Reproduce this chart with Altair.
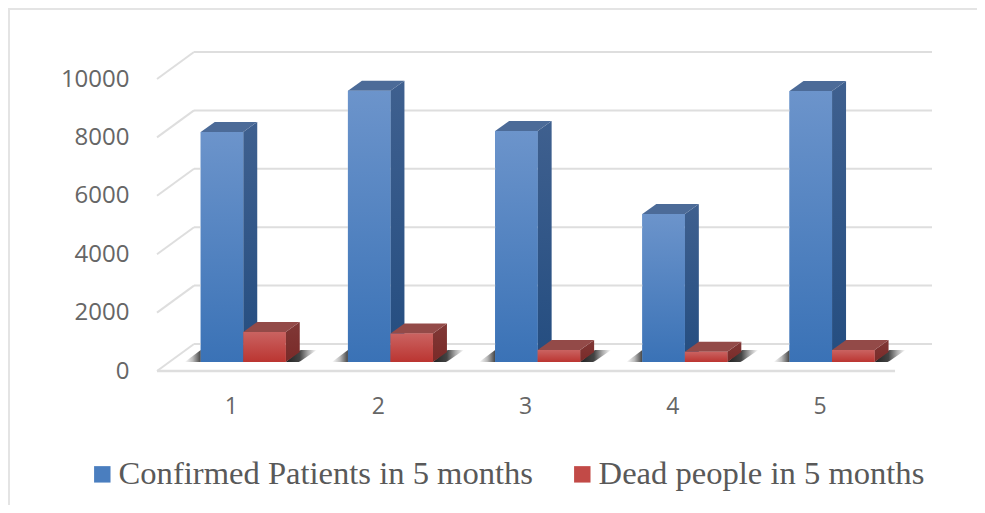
import altair as alt
import pandas as pd

MONTHS = [1, 2, 3, 4, 5]
CONFIRMED = [7880, 9290, 7910, 5070, 9280]
DEAD = [1030, 975, 410, 350, 410]
SERIES = ["Confirmed Patients in 5 months", "Dead people in 5 months"]
Y_TICKS = [0, 2000, 4000, 6000, 8000, 10000]

# pixel-to-data conversion factors of the fake 3D projection
PX_X = 1 / 147.2
PX_Y = 1 / 0.0292
X0, X1 = 0.499, 5.764
Y_MAX = 319 * PX_Y
DX_WALL, DY_WALL = 37 * PX_X, 27 * PX_Y
DX_BAR, DY_BAR = 14 * PX_X, 10 * PX_Y
BASE = 9 * PX_Y
BLUE_L, BAR_W = -30 * PX_X, 42.5 * PX_X
FLOOR_R = 5.513


def grad(stops, horizontal=False):
    return alt.Gradient(
        gradient="linear",
        stops=[alt.GradientStop(color=c, offset=o) for o, c in stops],
        x1=0, x2=1 if horizontal else 0, y1=0, y2=0 if horizontal else 1,
    )


x_scale = alt.Scale(domain=[X0, X1], nice=False, zero=False)
y_scale = alt.Scale(domain=[0, Y_MAX], nice=False, zero=False)
X = alt.X("x:Q", scale=x_scale, title=None, axis=alt.Axis(
    values=MONTHS, format="d", title=None, grid=False, domain=False, ticks=False,
    labelPadding=24, labelFont="Open Sans", labelFontSize=23, labelColor="#666666"))
Y = alt.Y("y:Q", scale=y_scale, title=None, axis=alt.Axis(
    values=Y_TICKS, format="d", title=None, grid=False, domain=False, ticks=False,
    labelPadding=28, labelFont="Open Sans", labelFontSize=24, labelColor="#666666"))

rows_front, rows_side, rows_top, rows_shl, rows_shr = [], [], [], [], []
for i, m in enumerate(MONTHS):
    for s, (name, vals) in enumerate(zip(SERIES, (CONFIRMED, DEAD))):
        l = m + BLUE_L + s * BAR_W
        r = l + BAR_W
        v = vals[i]
        t = BASE + v
        g = f"{m}-{s}"
        rows_front.append(dict(x=l, x2=r, y=BASE, y2=t, series=name, s=s))
        rows_side += [
            dict(x=r, y=BASE, y2=t, g=g, s=s),
            dict(x=r + DX_BAR, y=BASE + DY_BAR, y2=t + DY_BAR, g=g, s=s),
        ]
        rows_top += [
            dict(x=l, y=t, y2=t, g=g, s=s),
            dict(x=l + DX_BAR, y=t, y2=t + DY_BAR, g=g, s=s),
            dict(x=r, y=t, y2=t + DY_BAR, g=g, s=s),
            dict(x=r + DX_BAR, y=t + DY_BAR, y2=t + DY_BAR, g=g, s=s),
        ]
    l = m + BLUE_L
    rows_shl += [
        dict(x=l - 16 * PX_X, y=BASE, y2=BASE, g=m),
        dict(x=l, y=BASE, y2=BASE + 12 * PX_Y, g=m),
    ]
    r = l + 2 * BAR_W
    rows_shr += [
        dict(x=r, y=BASE, y2=BASE, g=m),
        dict(x=r + 13 * PX_X, y=BASE, y2=BASE + 11 * PX_Y, g=m),
        dict(x=r + 15 * PX_X, y=BASE + 1 * PX_Y, y2=BASE + 12 * PX_Y, g=m),
        dict(x=r + 31 * PX_X, y=BASE + 12 * PX_Y, y2=BASE + 12 * PX_Y, g=m),
    ]

front = pd.DataFrame(rows_front)
side = pd.DataFrame(rows_side)
top = pd.DataFrame(rows_top)

# wall and floor
back_lines = pd.DataFrame(
    [dict(x=X0 + DX_WALL, x2=X1, y=v + DY_WALL) for v in Y_TICKS]
)
diag = pd.DataFrame(
    [dict(x=X0, y=v, g=v) for v in Y_TICKS]
    + [dict(x=X0 + DX_WALL, y=v + DY_WALL, g=v) for v in Y_TICKS]
)
floor = pd.DataFrame([dict(x=X0, y=0), dict(x=FLOOR_R, y=0)])
GRID = "#dedede"

l_back = alt.Chart(back_lines).mark_rule(color=GRID, strokeWidth=2).encode(x=X, x2="x2:Q", y=Y)
l_diag = alt.Chart(diag).mark_line(color=GRID, strokeWidth=2).encode(x=X, y=Y, detail="g:N")
l_floor = alt.Chart(floor).mark_line(color=GRID, strokeWidth=2.4).encode(x=X, y=Y)

shadow_l = alt.Chart(pd.DataFrame(rows_shl)).mark_area(
    color=grad([(0, "#ffffff"), (0.5, "#bbbbbb"), (1, "#444444")], horizontal=True)
).encode(x=X, y=Y, y2="y2:Q", detail="g:N")
shadow_r = alt.Chart(pd.DataFrame(rows_shr)).mark_area(
    color=grad([(0, "#222222"), (0.45, "#444444"), (0.72, "#aaaaaa"), (1, "#ffffff")], horizontal=True)
).encode(x=X, y=Y, y2="y2:Q", detail="g:N")


def face_area(df, fill):
    return alt.Chart(df).mark_area(color=fill, interpolate="linear").encode(
        x=X, y=Y, y2="y2:Q", detail="g:N"
    )


def face_rect(df, fill):
    return alt.Chart(df).mark_rect(color=fill).encode(x=X, x2="x2:Q", y=Y, y2="y2:Q")


legend_base = alt.Chart(front).mark_rect().encode(
    x=X, x2="x2:Q", y=Y, y2="y2:Q",
    color=alt.Color(
        "series:N",
        scale=alt.Scale(domain=SERIES, range=["#4a7ebf", "#c24a47"]),
        legend=alt.Legend(
            orient="none", legendX=-71, legendY=406, direction="horizontal", columns=2,
            title=None, symbolType="square", symbolSize=270, symbolStrokeWidth=0,
            labelFont="Liberation Serif", labelFontSize=32.6, labelColor="#595959",
            labelOffset=0, columnPadding=32, labelLimit=600,
        ),
    ),
)

layers = [legend_base, l_back, l_diag, l_floor, shadow_l, shadow_r]
for s, (fs, ft, ff) in enumerate([
    (grad([(0, "#3f608f"), (1, "#244d80")]), "#4c6b98",
     grad([(0, "#6c94cb"), (1, "#3a72b6")])),
    (grad([(0, "#803836"), (1, "#7a2a28")]), "#934a48",
     grad([(0, "#ca6361"), (1, "#bb3531")])),
]):
    layers += [
        face_area(side[side.s == s], fs),
        face_area(top[top.s == s], ft),
        face_rect(front[front.s == s], ff),
    ]

# outer picture frame
FRAME = "#e4e4e4"
frame = [
    alt.Chart(pd.DataFrame({"a": [0]})).mark_rule(color=FRAME, strokeWidth=2).encode(
        x=alt.value(-149), x2=alt.value(820), y=alt.value(-43)),
    alt.Chart(pd.DataFrame({"a": [0]})).mark_rule(color=FRAME, strokeWidth=2).encode(
        x=alt.value(-148), y=alt.value(-44), y2=alt.value(453)),
]

chart = alt.layer(*layers, *frame).properties(
    width=775, height=319,
    padding={"left": 149, "top": 44, "right": 45, "bottom": 134},
    autosize=alt.AutoSizeParams(type="none"),
).configure_view(stroke=None)

chart.save("out.html", embed_options={"renderer": "svg", "actions": False})
